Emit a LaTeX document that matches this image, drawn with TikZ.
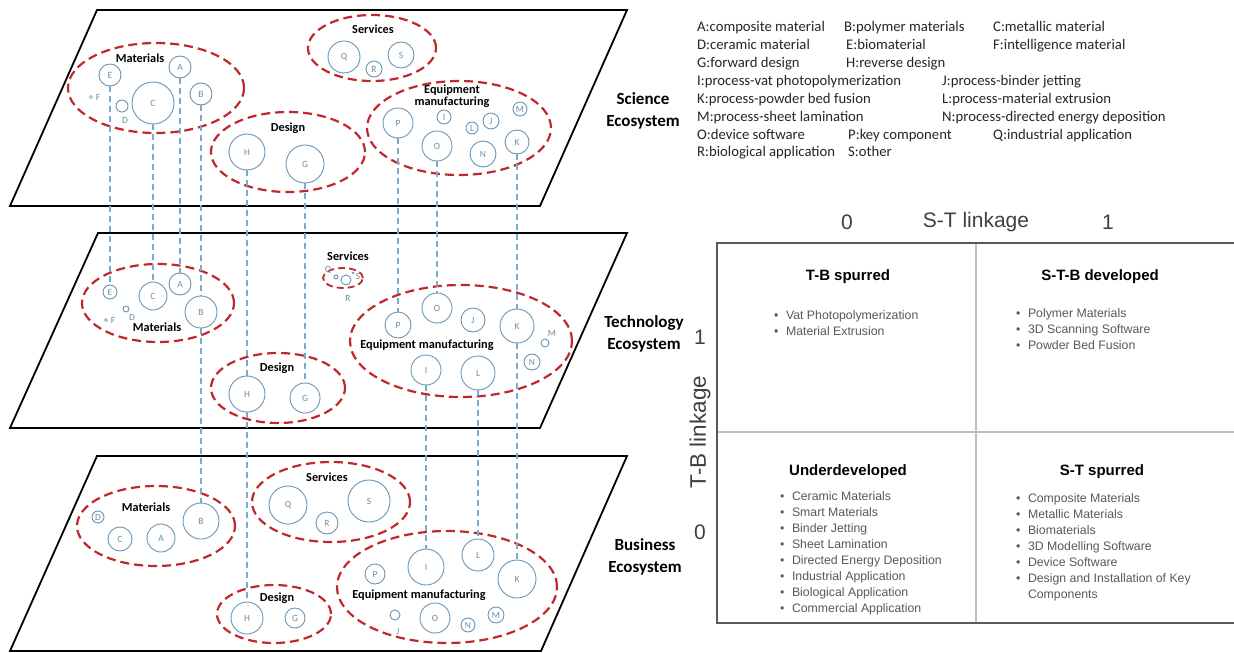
\documentclass[tikz,border=0pt]{standalone}
\usepackage{fontspec}
\usetikzlibrary{shapes.geometric}
\newfontfamily\carlito{Carlito}
\newfontfamily\arialf{Liberation Sans}
\definecolor{cred}{RGB}{192,40,45}
\definecolor{cblue}{RGB}{105,150,180}
\definecolor{ctext}{RGB}{110,140,162}
\definecolor{cconn}{RGB}{120,170,205}
\begin{document}
\begin{tikzpicture}[x=1pt,y=-1pt,
  cir/.style={circle, draw=cblue, line width=0.9pt, inner sep=0pt, text=ctext,
    font=\carlito\fontsize{9.5}{10}\selectfont, minimum size={2*#1pt}},
  dotc/.style={circle, draw=cblue, line width=0.7pt, inner sep=0pt, minimum size=3pt},
  lt/.style={inner sep=0pt, text=ctext, font=\carlito\fontsize{9.5}{10}\selectfont},
  grp/.style={ellipse, draw=cred, line width=2.2pt, dash pattern=on 9pt off 5pt, inner sep=0pt},
  glab/.style={inner sep=0pt, font=\carlito\bfseries\fontsize{12.3}{11.5}\selectfont, align=center},
  layer/.style={draw=black, line width=1.8pt, line join=miter},
  conn/.style={draw=cconn, line width=1.1pt, dash pattern=on 6pt off 4pt},
  ecolab/.style={font=\carlito\bfseries\fontsize{17}{22}\selectfont, align=center, inner sep=0pt},
  leg/.style={font=\carlito\fontsize{14.7}{14}\selectfont, anchor=west, inner sep=0pt,
    text height=9pt, text depth=3pt, text=black!85},
  axl/.style={font=\arialf\fontsize{21}{21}\selectfont, text=black!75, inner sep=0pt},
  hd/.style={font=\arialf\bfseries\fontsize{15}{15}\selectfont, inner sep=0pt},
  bl/.style={font=\arialf\fontsize{12.3}{16}\selectfont, text=black!65, anchor=base west, inner sep=0pt},
  outerl/.style={draw=black!65, line width=1.5pt},
  innerl/.style={draw=black!25, line width=1.3pt}
]
\fill[white] (0,0) rectangle (1234,653);
\useasboundingbox (0,0) rectangle (1234,653);

% ---------- layers ----------
\draw[layer] (10,206) -- (97,10) -- (627,10) -- (540,206) -- cycle;
\draw[layer] (10,428) -- (98,233) -- (627,233) -- (540,428) -- cycle;
\draw[layer] (10,651) -- (97,456) -- (627,456) -- (541,651) -- cycle;

\node[ecolab] (lsci) at (643,111) {Science\\Ecosystem};
\node[ecolab] (ltec) at (644,334) {Technology\\Ecosystem};
\node[ecolab] (lbus) at (645,557) {Business\\Ecosystem};

% ---------- Science layer ----------
\node[grp, minimum width=176pt, minimum height=90pt] (sMat) at (156,88) {};
\node[glab] (sMatL) at (140,58) {Materials};
\node[cir=11] (sE) at (110,75) {E};
\node[dotc] (sFd) at (91,97) {};
\node[lt] (sF) at (98,97) {F};
\node[cir=6] (sD) at (122,106) {};
\node[lt] (sDl) at (125,120) {D};
\node[cir=21] (sC) at (153,103) {C};
\node[cir=11] (sA) at (180,67) {A};
\node[cir=11] (sB) at (201,94) {B};

\node[grp, minimum width=154pt, minimum height=80pt] (sDes) at (288,152) {};
\node[glab] (sDesL) at (288,128) {Design};
\node[cir=18] (sH) at (247,152) {H};
\node[cir=19] (sG) at (305,164) {G};

\node[grp, minimum width=128pt, minimum height=66pt] (sSer) at (372,48) {};
\node[glab] (sSerL) at (373,29) {Services};
\node[cir=16] (sQ) at (344,57) {Q};
\node[cir=13] (sS) at (401,55) {S};
\node[cir=8] (sR) at (374,69) {R};

\node[grp, minimum width=184pt, minimum height=94pt] (sEq) at (459,128) {};
\node[glab] (sEqL) at (452,96) {Equipment\\manufacturing};
\node[cir=15] (sP) at (398,123) {P};
\node[cir=15] (sO) at (437,146) {O};
\node[cir=7] (sI) at (444,117) {I};
\node[cir=6] (sL) at (472,128) {L};
\node[cir=8] (sJ) at (491,121) {J};
\node[cir=13] (sN) at (483,154) {N};
\node[cir=7] (sM) at (520,109) {M};
\node[cir=12] (sK) at (517,142) {K};

% ---------- Technology layer ----------
\node[grp, minimum width=152pt, minimum height=78pt] (tMat) at (158,303) {};
\node[glab] (tMatL) at (157,327) {Materials};
\node[cir=7] (tE) at (110,292) {E};
\node[cir=14] (tC) at (153,296) {C};
\node[cir=11] (tA) at (180,284) {A};
\node[cir=16] (tB) at (201,312) {B};
\node[cir=3] (tD) at (126,309) {};
\node[lt] (tDl) at (132,317) {D};
\node[dotc] (tFd) at (106,320) {};
\node[lt] (tF) at (113,320) {F};

\node[grp, minimum width=134pt, minimum height=70pt] (tDes) at (278,388) {};
\node[glab] (tDesL) at (277,368) {Design};
\node[cir=18] (tH) at (247,394) {H};
\node[cir=15] (tG) at (305,398) {G};

\node[glab] (tSerL) at (348,256) {Services};
\node[grp, line width=1.8pt, dash pattern=on 7pt off 4pt, minimum width=40pt, minimum height=20pt] (tSer) at (343,278) {};
\node[lt] (tQ) at (328,270) {Q};
\node[cir=2] (tSo) at (336,277) {};
\node[cir=5] (tR) at (346,280) {};
\node[dotc, minimum size=2pt] (tSd) at (353,273) {};
\node[lt] (tS) at (358,276) {S};
\node[lt] (tRl) at (348,298) {R};

\node[grp, minimum width=222pt, minimum height=112pt] (tEq) at (461,341) {};
\node[glab] (tEqL) at (427,345) {Equipment manufacturing};
\node[cir=13] (tP) at (398,325) {P};
\node[cir=15] (tO) at (437,308) {O};
\node[cir=12] (tJ) at (473,320) {J};
\node[cir=17] (tK) at (517,326) {K};
\node[cir=4] (tM) at (545,343) {};
\node[lt] (tMl) at (552,333) {M};
\node[cir=8] (tN) at (532,362) {N};
\node[cir=15] (tI) at (426,370) {I};
\node[cir=17] (tL) at (478,373) {L};

% ---------- Business layer ----------
\node[grp, minimum width=158pt, minimum height=80pt] (bMat) at (156,526) {};
\node[glab] (bMatL) at (146,507) {Materials};
\node[cir=6] (bD) at (98,517) {D};
\node[cir=12] (bC) at (120,539) {C};
\node[cir=14] (bA) at (161,538) {A};
\node[cir=18] (bB) at (201,521) {B};

\node[grp, minimum width=158pt, minimum height=80pt] (bSer) at (331,502) {};
\node[glab] (bSerL) at (327,477) {Services};
\node[cir=19] (bQ) at (288,505) {Q};
\node[cir=11] (bR) at (327,523) {R};
\node[cir=21] (bS) at (369,501) {S};

\node[grp, minimum width=114pt, minimum height=58pt] (bDes) at (274,614) {};
\node[glab] (bDesL) at (277,598) {Design};
\node[cir=16] (bH) at (247,618) {H};
\node[cir=10] (bG) at (295,618) {G};

\node[grp, minimum width=220pt, minimum height=112pt] (bEq) at (447,587) {};
\node[glab] (bEqL) at (419,595) {Equipment manufacturing};
\node[cir=10] (bP) at (375,574) {P};
\node[cir=18] (bI) at (426,567) {I};
\node[cir=16] (bL) at (478,555) {L};
\node[cir=19] (bK) at (517,579) {K};
\node[cir=5] (bJ) at (395,615) {};
\node[lt] (bJl) at (398,631) {J};
\node[cir=15] (bO) at (435,618) {O};
\node[cir=7] (bN) at (468,625) {N};
\node[cir=8] (bM) at (496,615) {M};

% ---------- connectors ----------
\draw[conn] (sE.south) -- (tE.north);
\draw[conn] (sC.south) -- (tC.north);
\draw[conn] (sA.south) -- (tA.north);
\draw[conn] (sB.south) -- (tB.north);
\draw[conn] (tB.south) -- (bB.north);
\draw[conn] (sH.south) -- (tH.north);
\draw[conn] (tH.south) -- (bH.north);
\draw[conn] (sG.south) -- (tG.north);
\draw[conn] (sP.south) -- (tP.north);
\draw[conn] (sO.south) -- (tO.north);
\draw[conn] (sK.south) -- (tK.north);
\draw[conn] (tK.south) -- (bK.north);
\draw[conn] (tI.south) -- (bI.north);
\draw[conn] (tL.south) -- (bL.north);

% ---------- legend ----------
\node[leg] (lgA) at (697,28.5) {A:composite material};
\node[leg] (lgB) at (844,28.5) {B:polymer materials};
\node[leg] (lgC) at (993,28.5) {C:metallic material};
\node[leg] (lgD) at (697,46.5) {D:ceramic material};
\node[leg] (lgE) at (846,46.5) {E:biomaterial};
\node[leg] (lgF) at (993,46.5) {F:intelligence material};
\node[leg] (lgG) at (697,64.5) {G:forward design};
\node[leg] (lgH) at (846,64.5) {H:reverse design};
\node[leg] (lgI) at (697,82.5) {I:process-vat photopolymerization};
\node[leg] (lgJ) at (942,82.5) {J:process-binder jetting};
\node[leg] (lgK) at (697,100.5) {K:process-powder bed fusion};
\node[leg] (lgL) at (942,100.5) {L:process-material extrusion};
\node[leg] (lgM) at (697,118.5) {M:process-sheet lamination};
\node[leg] (lgN) at (942,118.5) {N:process-directed energy deposition};
\node[leg] (lgO) at (697,136.5) {O:device software};
\node[leg] (lgP) at (848,136.5) {P:key component};
\node[leg] (lgQ) at (993,136.5) {Q:industrial application};
\node[leg] (lgR) at (697,153.5) {R:biological application};
\node[leg] (lgS) at (848,153.5) {S:other};

% ---------- matrix ----------
\node[axl] (ax0) at (847,222) {0};
\node[axl] (axst) at (976,222) {S-T linkage};
\node[axl] (ax1) at (1108,222) {1};
\node[axl] (ay1) at (700,337) {1};
\node[axl, font=\arialf\fontsize{22.5}{22}\selectfont, rotate=90] (aytb) at (700,432) {T-B linkage};
\node[axl] (ay0) at (700,532) {0};

\draw[innerl] (976,243) -- (976,623);
\draw[innerl] (717,432) -- (1234,432);
\draw[outerl] (1234,243) -- (717,243) -- (717,623) -- (1234,623);

\node[hd] (q1) at (848,277) {T-B spurred};
\node[hd] (q2) at (1100,277) {S-T-B developed};
\node[hd] (q3) at (848,472) {Underdeveloped};
\node[hd] (q4) at (1102,472) {S-T spurred};

\foreach \t [count=\i] in {Vat Photopolymerization, Material Extrusion}
  \node[bl] (qa\i) at (774,{319.5+16*(\i-1)}) {•\hspace{7.5pt}\t};
\foreach \t [count=\i] in {Polymer Materials, 3D Scanning Software, Powder Bed Fusion}
  \node[bl] (qb\i) at (1016,{317.5+16*(\i-1)}) {•\hspace{7.5pt}\t};
\foreach \t [count=\i] in {Ceramic Materials, Smart Materials, Binder Jetting, Sheet Lamination, Directed Energy Deposition, Industrial Application, Biological Application, Commercial Application}
  \node[bl] (qc\i) at (780,{500.5+16*(\i-1)}) {•\hspace{7.5pt}\t};
\foreach \t [count=\i] in {Composite Materials, Metallic Materials, Biomaterials, 3D Modelling Software, Device Software, Design and Installation of Key}
  \node[bl] (qd\i) at (1016,{502.5+16*(\i-1)}) {•\hspace{7.5pt}\t};
\node[bl] (qd7) at (1016,598.5) {\phantom{•}\hspace{7.5pt}Components};
\end{tikzpicture}
\end{document}
